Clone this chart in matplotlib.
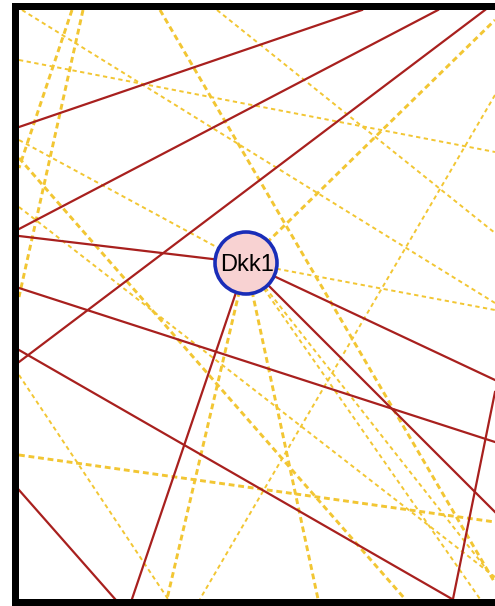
import matplotlib
matplotlib.use("Agg")
import matplotlib.pyplot as plt
from matplotlib.patches import Rectangle, Circle

# ---- data (pixel-space layout of the network crop) ----
node_label = "Dkk1"
node_xy = (246, 263)

# solid red edges: (x0, y0, x1, y1)
red_edges = [
    (19, 127, 362, 10),
    (19, 229, 438, 10),
    (19, 362, 485, 10),
    (19, 236, 246, 263),
    (19, 288, 495, 442),
    (19, 350, 452, 599),
    (19, 490, 115, 599),
    (246, 263, 132, 599),
    (246, 263, 495, 380),
    (246, 263, 495, 512),
    (495, 392, 453, 599),
]

# thick dashed yellow edges
dash_edges = [
    (72, 10, 19, 168),
    (83, 10, 19, 297),
    (19, 158, 405, 599),
    (160, 10, 495, 583),
    (246, 263, 495, 20),
    (246, 263, 318, 599),
    (246, 263, 167, 599),
    (19, 455, 495, 522),
]

# thin dotted yellow edges
dot_edges = [
    (22, 10, 495, 303),
    (19, 60, 495, 152),
    (217, 10, 495, 233),
    (495, 95, 200, 599),
    (19, 140, 246, 263),
    (19, 207, 495, 577),
    (19, 375, 168, 599),
    (246, 263, 495, 310),
    (246, 263, 480, 599),
    (246, 263, 495, 580),
]

W, H = 495, 606
fig = plt.figure(figsize=(W / 100, H / 100), dpi=100)
ax = fig.add_axes([0, 0, 1, 1])
ax.set_xlim(0, W)
ax.set_ylim(H, 0)
ax.axis("off")

clip = Rectangle((19, 10), W - 19, 589, transform=ax.transData, facecolor="none", edgecolor="none")
ax.add_patch(clip)

yellow = "#f2c633"
for (x0, y0, x1, y1) in dot_edges:
    ln, = ax.plot([x0, x1], [y0, y1], color=yellow, lw=1.4, zorder=1,
                  solid_capstyle="butt")
    ln.set_linestyle((0, (2.2, 1.8)))
    ln.set_clip_path(clip)
for (x0, y0, x1, y1) in dash_edges:
    ln, = ax.plot([x0, x1], [y0, y1], color=yellow, lw=2.1, zorder=2)
    ln.set_linestyle((0, (2.0, 1.3)))
    ln.set_clip_path(clip)
for (x0, y0, x1, y1) in red_edges:
    ln, = ax.plot([x0, x1], [y0, y1], color="#a8201e", lw=1.6, zorder=3)
    ln.set_clip_path(clip)

# node
ax.add_patch(Circle(node_xy, 31, facecolor="#f8d2d2", edgecolor="#1a2db8", lw=2.6, zorder=5))
ax.text(node_xy[0] + 1, node_xy[1] + 2, node_label, ha="center", va="center",
        fontsize=17, family="Liberation Sans", color="black", zorder=6)

# frame
ax.add_patch(Rectangle((12, 3), 7, H - 3, facecolor="black", edgecolor="none", zorder=10))
ax.add_patch(Rectangle((12, 3), W - 12, 7, facecolor="black", edgecolor="none", zorder=10))
ax.add_patch(Rectangle((12, 599), W - 12, 7, facecolor="black", edgecolor="none", zorder=10))

fig.savefig("out.png", dpi=100, facecolor="white")
